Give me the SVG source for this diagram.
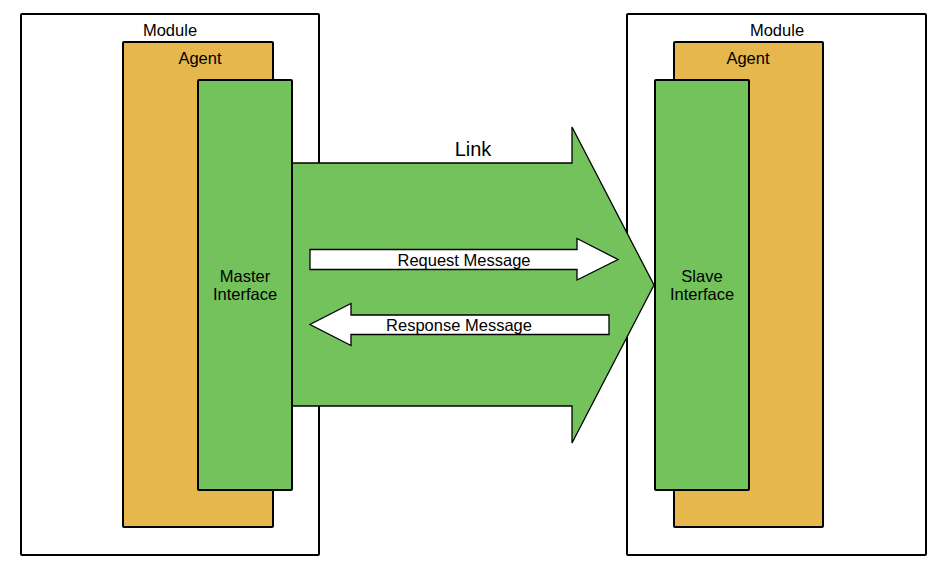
<svg xmlns="http://www.w3.org/2000/svg" width="942" height="572" viewBox="0 0 942 572">
<style>
  .box { stroke: #000; stroke-width: 2; stroke-linejoin: round; }
  .module { fill: #ffffff; }
  .agent { fill: #E5B74D; }
  .iface { fill: #73C25C; }
  .link { fill: #73C25C; stroke: #000; stroke-width: 1.3; stroke-linejoin: miter; }
  .msg { fill: #ffffff; stroke: #000; stroke-width: 1.3; }
  text { font-family: "Liberation Sans", Arial, sans-serif; font-size: 16.5px; fill: #000; text-anchor: middle; }
  .big { font-size: 20px; }
</style>
<rect width="942" height="572" fill="#ffffff"/>
<g id="module-left">
  <rect class="box module" x="21" y="14" width="298" height="541" rx="1"/>
  <text x="170" y="36">Module</text>
</g>
<g id="agent-left">
  <rect class="box agent" x="123" y="42" width="150" height="485" rx="1"/>
  <text x="200" y="64">Agent</text>
</g>
<g id="module-right">
  <rect class="box module" x="627" y="14" width="299" height="541" rx="1"/>
  <text x="777" y="36">Module</text>
</g>
<g id="agent-right">
  <rect class="box agent" x="674" y="42" width="149" height="485" rx="1"/>
  <text x="748" y="64">Agent</text>
</g>
<g id="connectors">
  <g id="link">
    <path class="link" d="M286,163 L572,163 L572,127 L654,285 L572,443 L572,406 L286,406 Z"/>
    <text class="big" x="473" y="156">Link</text>
  </g>
  <g id="request-message">
    <path class="msg" d="M310,249.5 L577,249.5 L577,238.5 L618,259.5 L577,280 L577,269.5 L310,269.5 Z"/>
    <text x="464" y="266">Request Message</text>
  </g>
  <g id="response-message">
    <path class="msg" d="M609,315 L351,315 L351,303.5 L310,324.5 L351,345.5 L351,334.5 L609,334.5 Z"/>
    <text x="459" y="331">Response Message</text>
  </g>
</g>
<g id="master-interface">
  <rect class="box iface" x="198" y="80" width="94" height="410" rx="1"/>
  <text x="245" y="282">Master</text>
  <text x="245" y="300">Interface</text>
</g>
<g id="slave-interface">
  <rect class="box iface" x="655" y="80" width="94" height="410" rx="1"/>
  <text x="702" y="282">Slave</text>
  <text x="702" y="300">Interface</text>
</g>
</svg>
